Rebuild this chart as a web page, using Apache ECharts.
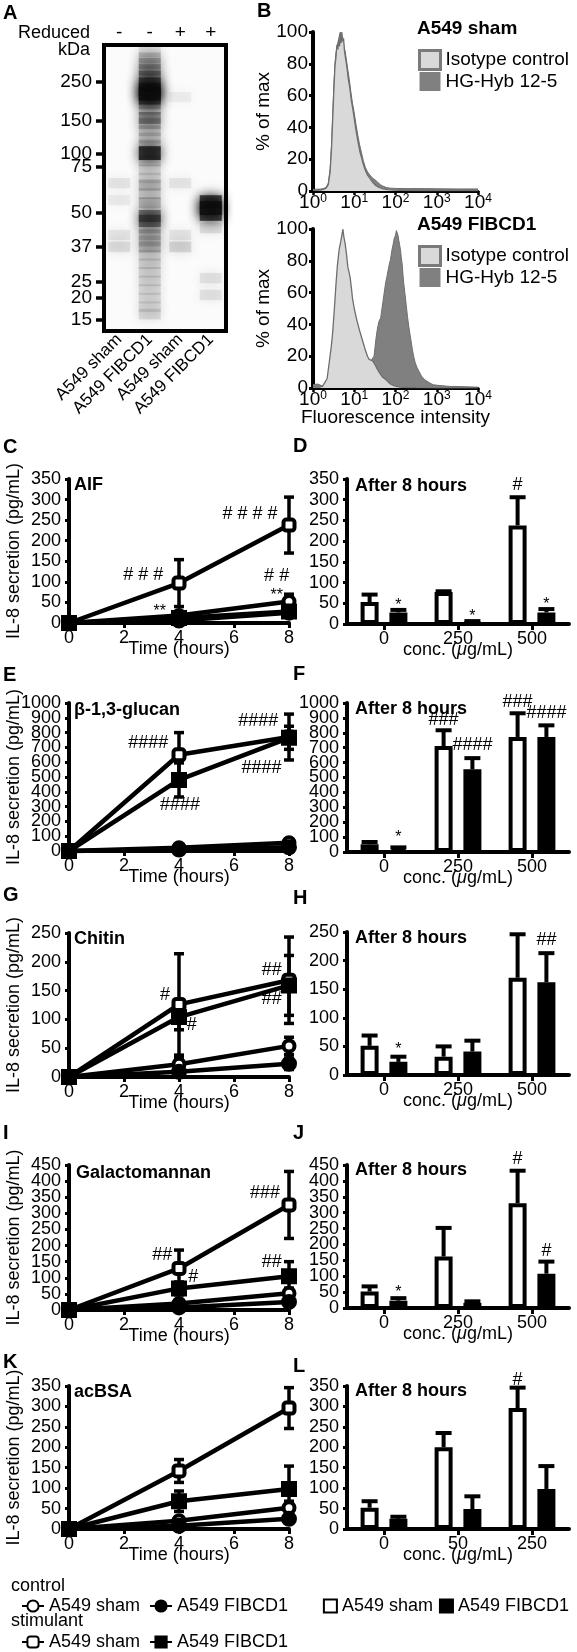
<!DOCTYPE html>
<html><head><meta charset="utf-8">
<script src="https://cdn.jsdelivr.net/npm/echarts@6/dist/echarts.min.js"></script>
<style>html,body{margin:0;padding:0;background:#fff}#c{width:577px;height:1652px}</style>
</head><body><div id="c"></div>
<script>
const FF = '"Liberation Sans", Arial, Helvetica, sans-serif';

// ---------- Panel A: western blot ----------
const laneNames = ['A549 sham', 'A549 FIBCD1', 'A549 sham', 'A549 FIBCD1'];
const reducedFlags = ['-', '-', '+', '+'];
const ladderKDa = [250, 150, 100, 75, 50, 37, 25, 20, 15];
const ladderMigration = [12.8, 26.5, 37.9, 42.6, 58.8, 70.5, 82.8, 88.4, 96.2]; // % of gel length
// [lane index, migration %, relative intensity]
const blotBands = [
  [1, 2.5, 0.12], [1, 4.5, 0.2], [1, 6.5, 0.28], [1, 8.7, 0.35], [1, 11.0, 0.45], [1, 13.5, 0.65], [1, 15.5, 0.95], [1, 17.0, 1.0], [1, 18.5, 0.8],
  [1, 20.5, 0.3], [1, 22.5, 0.2], [1, 25.5, 0.45], [1, 27.5, 0.25], [1, 30.0, 0.2], [1, 32.5, 0.18], [1, 35.0, 0.2], [1, 37.8, 0.95], [1, 40.5, 0.2],
  [1, 43.7, 0.14], [1, 46.5, 0.14], [1, 49.0, 0.25], [1, 52.0, 0.18], [1, 55.2, 0.28], [1, 59.8, 0.6], [1, 61.5, 0.55], [1, 64.0, 0.2],
  [1, 66.4, 0.25], [1, 68.5, 0.18], [1, 70.6, 0.28], [1, 73.5, 0.15], [1, 76.5, 0.16], [1, 79.5, 0.14], [1, 82.5, 0.14], [1, 85.5, 0.12],
  [1, 88.5, 0.13], [1, 91.5, 0.13], [1, 94.1, 0.15],
  [0, 48.3, 0.09], [0, 54.2, 0.07], [0, 66.4, 0.09], [0, 70.6, 0.13],
  [2, 18.2, 0.06], [2, 48.3, 0.09], [2, 66.4, 0.09], [2, 70.6, 0.16],
  [3, 54.9, 0.9], [3, 57.0, 1.0], [3, 59.1, 0.9], [3, 64.0, 0.12], [3, 81.5, 0.1], [3, 87.4, 0.1]
];

// ---------- Panel B: flow cytometry histograms [intensity, % of max] ----------
const histShamIsotype = [[1,0.4],[1.5,0.6],[1.8,1],[2.1,2],[2.35,4],[2.6,12],[2.8,26],[3.0,45],[3.2,63],[3.4,78],[3.6,84],[3.8,92],[4.0,89],[4.2,95],[4.4,91],[4.6,99],[4.8,93],[5.0,100],[5.25,94],[5.5,96],[5.8,88],[6.2,83],[6.7,77],[7.2,70],[7.8,65],[8.5,57],[9.3,51],[10.2,44],[11.2,37],[12.3,31],[13.6,25],[15,21],[16.5,17],[18.5,13],[21,10],[24,8],[28,5.5],[33,3.5],[40,2.2],[50,1.4],[65,0.9],[90,0.6],[130,0.4],[300,0.3],[1000,0.3],[10000,0.3]];
const histShamHyb = [[1,1],[1.5,1.2],[1.8,1.5],[2.1,2.5],[2.35,5],[2.6,14],[2.8,28],[3.0,48],[3.2,66],[3.4,80],[3.6,87],[3.8,90],[4.0,93],[4.3,97],[4.6,100],[4.9,95],[5.2,97],[5.6,91],[6.0,88],[6.5,82],[7.0,76],[7.6,70],[8.3,62],[9.1,55],[10,49],[11,42],[12.2,35],[13.5,29],[15,24],[16.6,19],[18.5,15],[21,12],[24,10],[28,8],[32,7],[37,5.5],[43,4],[50,3],[60,2.2],[75,1.8],[100,1.6],[200,1.5],[500,1.5],[1000,1.4],[3000,1.3],[10000,1.3]];
const histFibIsotype = [[1,0.5],[1.4,0.5],[1.7,1],[1.9,2],[2.2,6],[2.5,17],[2.8,27],[3.0,35],[3.3,50],[3.6,65],[3.9,77],[4.3,87],[4.7,92],[5.0,96],[5.3,100],[5.6,95],[6.0,91],[6.5,84],[7.0,76],[7.9,70],[8.6,62],[9.1,56],[10,50],[10.8,46],[12,41],[13.5,36],[15.8,30],[18,25],[20.9,20],[23,18],[25,17],[28,17],[30,16],[33,14],[36,12],[40,10],[44,9],[48,7],[53,6],[60,5],[63,4],[75,2.5],[91,1.5],[110,0.8],[132,0.5],[200,0.3],[316,0.2],[1000,0.1],[10000,0.1]];
const histFibHyb = [[1,2],[1.1,2.5],[1.3,2.5],[1.6,1.5],[2,1],[4,1],[8,1.5],[12,3],[15.8,5],[18,8],[20.9,12],[23,15],[25.1,17],[28,18],[30.2,20],[32,26],[34,32],[36.3,37],[39.8,42],[43.7,44],[47,50],[50.1,55],[54,61],[57.5,66],[62,70],[66.1,74],[71,78],[75.9,81],[81,86],[87.1,90],[93,94],[100,96],[105,99],[110,100],[115,96],[120,93],[126,90],[132,87],[138,82],[145,78],[151,72],[158,66],[170,59],[182,52],[195,45],[209,39],[224,34],[240,29],[257,24],[275,20],[300,16],[331,13],[363,11],[398,9],[437,7],[479,6],[525,5],[575,4],[690,3],[832,2],[1200,1.5],[2089,1],[5012,0.8],[10000,0.5]];

// ---------- y tick labels for IL-8 panels ----------
const ticks350 = [0, 50, 100, 150, 200, 250, 300, 350];
const ticks1000 = [0, 100, 200, 300, 400, 500, 600, 700, 800, 900, 1000];
const ticks250 = [0, 50, 100, 150, 200, 250];
const ticks450 = [0, 50, 100, 150, 200, 250, 300, 350, 400, 450];

// ---------- Time courses (order: control sham, control FIBCD1, stimulant sham, stimulant FIBCD1) ----------
const timeHours = [0, 4, 8];
const seriesKeys = ['control|A549 sham', 'control|A549 FIBCD1', 'stimulant|A549 sham', 'stimulant|A549 FIBCD1'];

const aifMean = [[0,18,52],[0,6,25],[0,97,238],[0,12,28]];
const aifErr  = [[0,8,18],[0,3,6],[0,57,68],[0,6,8]];
const aifMarks = [[2.7,117,'# # #'],[3.3,28,'**'],[6.58,265,'# # # #'],[7.55,114,'# #'],[7.55,66,'**']];

const glucanMean = [[0,22,55],[0,10,25],[0,650,770],[0,480,765]];
const glucanErr  = [[0,8,15],[0,4,6],[0,150,155],[0,115,78]];
const glucanMarks = [[2.88,732,'####'],[4.04,311,'####'],[6.88,878,'####'],[7.0,559,'####']];

const chitinMean = [[0,22,54],[0,9,23],[0,126,168],[0,104,159]];
const chitinErr  = [[0,12,15],[0,5,10],[0,88,75],[0,22,52]];
const chitinMarks = [[3.49,142,'#'],[4.46,90,'#'],[7.37,185,'##'],[7.37,135,'##']];

const galactoMean = [[0,20,52],[0,8,25],[0,129,326],[0,67,105]];
const galactoErr  = [[0,8,16],[0,4,6],[0,57,104],[0,20,45]];
const galactoMarks = [[3.39,171,'##'],[4.52,103,'#'],[7.13,362,'###'],[7.37,150,'##']];

const acbsaMean = [[0,20,52],[0,8,25],[0,142,296],[0,68,98]];
const acbsaErr  = [[0,8,16],[0,4,6],[0,28,50],[0,25,56]];
const acbsaMarks = [];

// ---------- After 8 hours bars ----------
const concStd = ['0', '250', '500'];
const concBSA = ['0', '50', '250'];

const aif8Sham = [53, 77, 238], aif8ShamErr = [18, 2, 68];
const aif8Fib = [28, 5, 28], aif8FibErr = [6, 2, 8];
const aif8Marks = [[0,1,44,'*'],[1,1,18,'*'],[2,0,336,'#'],[2,1,48,'*']];

const glucan8Sham = [52, 711, 772], glucan8ShamErr = [15, 106, 159];
const glucan8Fib = [25, 555, 772], glucan8FibErr = [6, 75, 78];
const glucan8Marks = [[0,1,98,'*'],[1,0,886,'###'],[1,1,718,'####'],[2,0,1009,'###'],[2,1,931,'####']];

const chitin8Sham = [51, 32, 170], chitin8ShamErr = [18, 18, 76];
const chitin8Fib = [23, 41, 162], chitin8FibErr = [9, 19, 51];
const chitin8Marks = [[0,1,45,'*'],[2,1,236,'##']];

const galacto8Sham = [52, 162, 330], galacto8ShamErr = [16, 90, 102];
const galacto8Fib = [23, 16, 108], galacto8FibErr = [8, 5, 38];
const galacto8Marks = [[0,1,50,'*'],[2,0,468,'#'],[2,1,178,'#']];

const acbsa8Sham = [52, 200, 296], acbsa8ShamErr = [16, 35, 50];
const acbsa8Fib = [25, 49, 98], acbsa8FibErr = [5, 31, 56];
const acbsa8Marks = [[2,0,364,'#']];

// ================= build option =================
const grids = [], xAxes = [], yAxes = [], series = [], graphics = [];
const axText = { color: '#000', fontFamily: FF, fontSize: 18 };

function addGrid(g) {
  grids.push(Object.assign({ containLabel: false, outerBoundsMode: 'none' }, g));
  return grids.length - 1;
}
function txt(x, y, text, size, bold, align) {
  graphics.push({ type: 'text', x: x, y: y, z: 100,
    style: { text: text, fill: '#000', font: (bold ? 'bold ' : '') + size + 'px ' + FF,
      align: align || 'left', verticalAlign: 'middle', textAlign: align || 'left', textVerticalAlign: 'middle' } });
}
function textEl(pt, text, size, align) {
  return { type: 'text', x: pt[0], y: pt[1],
    style: { text: text, fill: '#000', font: size + 'px ' + FF, align: align || 'center', verticalAlign: 'middle',
      textAlign: align || 'center', textVerticalAlign: 'middle' } };
}
function seg(x1, y1, x2, y2, w) {
  return { type: 'line', shape: { x1: x1, y1: y1, x2: x2, y2: y2 }, style: { stroke: '#000', lineWidth: w } };
}

// ---- Panel A
(function () {
  const gi = addGrid({ left: 104, top: 45, width: 122, height: 286, show: true, borderColor: '#000', borderWidth: 4, backgroundColor: '#fbfbfb' });
  const idx = laneNames.map((n, i) => String(i));
  const xb = xAxes.push({ gridIndex: gi, type: 'category', data: idx, position: 'bottom',
    axisLine: { show: false }, axisTick: { show: false },
    axisLabel: { interval: 0, rotate: 45, margin: 6, color: '#000', fontFamily: FF, fontSize: 17,
      formatter: (v, i) => laneNames[i] } }) - 1;
  xAxes.push({ gridIndex: gi, type: 'category', data: idx, position: 'top',
    axisLine: { show: false }, axisTick: { show: false },
    axisLabel: { interval: 0, margin: 3, color: '#000', fontFamily: FF, fontSize: 19,
      formatter: (v, i) => reducedFlags[i] } });
  const yi = yAxes.push({ gridIndex: gi, type: 'value', min: 0, max: 100, inverse: true,
    axisLine: { show: false }, splitLine: { show: false },
    axisTick: { show: true, customValues: ladderMigration, length: 8, lineStyle: { color: '#000', width: 3.5 } },
    axisLabel: { customValues: ladderMigration, margin: 12, color: '#000', fontFamily: FF, fontSize: 19, lineHeight: 12,
      formatter: (v) => { const i = ladderMigration.indexOf(v); return i >= 0 ? String(ladderKDa[i]) : ''; } } }) - 1;
  series.push({ type: 'scatter', xAxisIndex: xb, yAxisIndex: yi, data: blotBands, symbol: 'rect',
    symbolSize: (v) => [22, 10 + 4 * v[2]],
    itemStyle: { color: (p) => 'rgba(15,15,15,' + p.value[2] + ')', shadowBlur: 12, shadowColor: '#000' },
    silent: true, z: 1 });
  txt(90, 33, 'Reduced', 18, false, 'right');
  txt(90, 50, 'kDa', 18, false, 'right');
})();

// ---- Panel B
function histPanel(g, iso, hyb, withName) {
  const gi = addGrid(g);
  const xi = xAxes.push({ gridIndex: gi, type: 'log', logBase: 10, min: 1, max: 10000,
    axisLine: { show: true, lineStyle: { color: '#000', width: 3 } },
    axisTick: { show: true, length: 4, lineStyle: { color: '#000', width: 2.5 } },
    minorTick: { show: false }, splitLine: { show: false },
    axisLabel: { margin: 2, color: '#000', fontFamily: FF, fontSize: 19, showMinLabel: true, showMaxLabel: true,
      formatter: (v) => '10{s|' + Math.round(Math.log10(v)) + '}',
      rich: { s: { fontSize: 12, fontFamily: FF, color: '#000', verticalAlign: 'top', lineHeight: 20 } } },
    name: withName ? 'Fluorescence intensity' : '', nameLocation: 'middle', nameGap: 20, nameMoveOverlap: false,
    nameTextStyle: { color: '#000', fontFamily: FF, fontSize: 19 } }) - 1;
  const yi = yAxes.push({ gridIndex: gi, type: 'value', min: 0, max: 100, interval: 20,
    axisLine: { show: true, lineStyle: { color: '#000', width: 4 } },
    axisTick: { show: true, length: 4, lineStyle: { color: '#000', width: 3 } },
    splitLine: { show: false },
    axisLabel: { margin: 5, color: '#000', fontFamily: FF, fontSize: 19, lineHeight: 14, showMinLabel: true, showMaxLabel: true,
      formatter: (v) => String(v) },
    name: '% of max', nameLocation: 'middle', nameGap: 40, nameMoveOverlap: false,
    nameTextStyle: { color: '#000', fontFamily: FF, fontSize: 19 } }) - 1;
  series.push({ type: 'line', name: 'HG-Hyb 12-5', xAxisIndex: xi, yAxisIndex: yi, data: hyb,
    symbol: 'none', lineStyle: { color: '#6e6e6e', width: 1 }, areaStyle: { color: '#808080', opacity: 1 }, z: 2 });
  series.push({ type: 'line', name: 'Isotype control', xAxisIndex: xi, yAxisIndex: yi, data: iso,
    symbol: 'none', lineStyle: { color: '#6e6e6e', width: 1.3 }, areaStyle: { color: '#d9d9d9', opacity: 1 }, z: 3 });
}
histPanel({ left: 313, top: 32, width: 165, height: 159 }, histShamIsotype, histShamHyb, false);
histPanel({ left: 313, top: 229, width: 165, height: 159 }, histFibIsotype, histFibHyb, true);

const histLegendData = [
  { name: 'Isotype control', icon: 'rect', itemStyle: { color: '#d9d9d9', borderColor: '#7a7a7a', borderWidth: 3 } },
  { name: 'HG-Hyb 12-5', icon: 'rect', itemStyle: { color: '#808080', borderColor: '#808080', borderWidth: 0 } }
];
txt(417, 29, 'A549 sham', 19, true);
txt(417, 225, 'A549 FIBCD1', 19, true);

// ---- time-course panels
const markerStyles = [
  { symbol: 'circle', fill: '#fff', size: 11 },
  { symbol: 'circle', fill: '#000', size: 12 },
  { symbol: 'roundRect', fill: '#fff', size: 11 },
  { symbol: 'rect', fill: '#000', size: 12 }
];
// y axis + its tick labels (labels drawn through the axis scale with a custom series, so dense labels may overlap like the original)
function yAxisFor(gi, g, xi, ticks, name) {
  const yi = yAxes.push({ gridIndex: gi, type: 'value', min: 0, max: ticks[ticks.length - 1], interval: ticks[1] - ticks[0],
    axisLine: { show: true, lineStyle: { color: '#000', width: 4 } },
    axisTick: { show: true, length: 4, lineStyle: { color: '#000', width: 3 } },
    splitLine: { show: false },
    axisLabel: { show: false },
    name: name || '', nameLocation: 'middle', nameGap: 46, nameMoveOverlap: false,
    nameTextStyle: axText }) - 1;
  series.push({ type: 'custom', xAxisIndex: xi, yAxisIndex: yi, data: ticks.map(t => [0, t]), silent: true, clip: false, z: 10,
    encode: { y: 1 },
    renderItem: (p, api) => {
      const y = api.coord([0, api.value(1)])[1];
      return textEl([g.left - 8, y], String(ticks[p.dataIndex]), 18, 'right');
    } });
  return yi;
}
function linePanel(g, ticks, means, errs, marks) {
  const gi = addGrid(g);
  const xi = xAxes.push({ gridIndex: gi, type: 'value', min: 0, max: 8, interval: 2,
    axisLine: { show: true, onZero: false, lineStyle: { color: '#000', width: 4 } },
    axisTick: { show: true, length: 5, lineStyle: { color: '#000', width: 3 } },
    splitLine: { show: false },
    axisLabel: Object.assign({ margin: 6, showMinLabel: true, showMaxLabel: true }, axText),
    name: 'Time (hours)', nameLocation: 'middle', nameGap: 17, nameMoveOverlap: false, nameTextStyle: axText }) - 1;
  const yi = yAxisFor(gi, g, xi, ticks, 'IL-8 secretion (pg/mL)');
  means.forEach((m, k) => {
    const st = markerStyles[k];
    series.push({ type: 'line', name: seriesKeys[k], xAxisIndex: xi, yAxisIndex: yi,
      data: timeHours.map((t, i) => [t, m[i]]), symbol: st.symbol, symbolSize: st.size, showAllSymbol: true,
      lineStyle: { color: '#000', width: 4.5 }, itemStyle: { color: st.fill, borderColor: '#000', borderWidth: 4 },
      clip: false, z: 4 + k });
  });
  const errData = [];
  means.forEach((m, k) => timeHours.forEach((t, i) => { if (errs[k][i] > 0) errData.push([t, m[i], errs[k][i]]); }));
  series.push({ type: 'custom', xAxisIndex: xi, yAxisIndex: yi, data: errData, silent: true, z: 3, clip: false,
    renderItem: (p, api) => {
      const x = api.value(0), m = api.value(1), e = api.value(2);
      const top = api.coord([x, m + e]), bot = api.coord([x, Math.max(0, m - e)]);
      return { type: 'group', children: [
        seg(top[0], top[1], bot[0], bot[1], 3.5),
        seg(top[0] - 5, top[1], top[0] + 5, top[1], 3.5),
        seg(bot[0] - 5, bot[1], bot[0] + 5, bot[1], 3.5)] };
    } });
  if (marks.length) {
    series.push({ type: 'custom', xAxisIndex: xi, yAxisIndex: yi, data: marks.map(a => [a[0], a[1]]), silent: true, z: 10, clip: false,
      renderItem: (p, api) => { const t = marks[p.dataIndex][2]; return textEl(api.coord([api.value(0), api.value(1)]), t, t.indexOf('*') >= 0 ? 16 : 18); } });
  }
}

// ---- bar panels
const BAR_OFF = 14.4;
function barPanel(g, ticks, cats, sham, shamErr, fib, fibErr, marks) {
  const gi = addGrid(g);
  const xi = xAxes.push({ gridIndex: gi, type: 'category', data: cats,
    axisLine: { show: true, lineStyle: { color: '#000', width: 4 } },
    axisTick: { show: true, alignWithLabel: true, length: 6, lineStyle: { color: '#000', width: 3 } },
    axisLabel: Object.assign({ margin: 6, interval: 0 }, axText),
    name: '{n|conc. (}{i|μ}{n|g/mL)}', nameLocation: 'middle', nameGap: 17, nameMoveOverlap: false,
    nameTextStyle: { rich: { n: axText, i: Object.assign({ fontStyle: 'italic' }, axText) } } }) - 1;
  const yi = yAxisFor(gi, g, xi, ticks, '');
  series.push({ type: 'bar', name: 'bar|A549 sham', xAxisIndex: xi, yAxisIndex: yi, data: sham,
    barWidth: 18, barGap: '60%', itemStyle: { color: '#fff', borderColor: '#000', borderWidth: 4 }, z: 2 });
  series.push({ type: 'bar', name: 'bar|A549 FIBCD1', xAxisIndex: xi, yAxisIndex: yi, data: fib,
    barWidth: 18, barGap: '60%', itemStyle: { color: '#000', borderColor: '#000', borderWidth: 4 }, z: 2 });
  const errData = cats.map((c, i) => [i, sham[i], shamErr[i], 0]).concat(cats.map((c, i) => [i, fib[i], fibErr[i], 1]));
  series.push({ type: 'custom', xAxisIndex: xi, yAxisIndex: yi, data: errData, silent: true, z: 3, clip: false,
    renderItem: (p, api) => {
      const c = api.value(0), m = api.value(1), e = api.value(2), side = api.value(3);
      const b = api.coord([c, m]), t = api.coord([c, m + e]);
      const x = b[0] + (side ? BAR_OFF : -BAR_OFF);
      return { type: 'group', children: [seg(x, b[1], x, t[1], 4), seg(x - 8, t[1], x + 8, t[1], 4)] };
    } });
  series.push({ type: 'custom', xAxisIndex: xi, yAxisIndex: yi, data: marks.map(a => [a[0], a[2], a[1]]), silent: true, z: 10, clip: false,
    renderItem: (p, api) => {
      const pt = api.coord([api.value(0), api.value(1)]);
      pt[0] += api.value(2) ? BAR_OFF : -BAR_OFF;
      const t = marks[p.dataIndex][3];
      return textEl(pt, t, t.indexOf('*') >= 0 ? 16 : 18);
    } });
}

linePanel({ left: 69, top: 479, width: 220, height: 144 }, ticks350, aifMean, aifErr, aifMarks);
barPanel({ left: 347, top: 479, width: 222, height: 145 }, ticks350, concStd, aif8Sham, aif8ShamErr, aif8Fib, aif8FibErr, aif8Marks);
linePanel({ left: 69, top: 703, width: 220, height: 148 }, ticks1000, glucanMean, glucanErr, glucanMarks);
barPanel({ left: 347, top: 703, width: 222, height: 149 }, ticks1000, concStd, glucan8Sham, glucan8ShamErr, glucan8Fib, glucan8FibErr, glucan8Marks);
linePanel({ left: 69, top: 933, width: 220, height: 144 }, ticks250, chitinMean, chitinErr, chitinMarks);
barPanel({ left: 347, top: 932, width: 222, height: 143 }, ticks250, concStd, chitin8Sham, chitin8ShamErr, chitin8Fib, chitin8FibErr, chitin8Marks);
linePanel({ left: 69, top: 1165, width: 220, height: 145 }, ticks450, galactoMean, galactoErr, galactoMarks);
barPanel({ left: 347, top: 1165, width: 222, height: 143 }, ticks450, concStd, galacto8Sham, galacto8ShamErr, galacto8Fib, galacto8FibErr, galacto8Marks);
linePanel({ left: 69, top: 1386, width: 220, height: 143 }, ticks350, acbsaMean, acbsaErr, acbsaMarks);
barPanel({ left: 347, top: 1386, width: 222, height: 143 }, ticks350, concBSA, acbsa8Sham, acbsa8ShamErr, acbsa8Fib, acbsa8FibErr, acbsa8Marks);

// panel letters & titles
[['A',3,13],['B',257,11],['C',3,447],['D',293,446],['E',3,675],['F',293,674],['G',3,895],['H',293,898],['I',3,1133],['J',293,1133],['K',3,1362],['L',293,1366]]
  .forEach(a => txt(a[1], a[2], a[0], 20, true));
[['AIF',74,485],['β-1,3-glucan',74,710],['Chitin',74,939],['Galactomannan',76,1173],['acBSA',74,1392]]
  .forEach(a => txt(a[1], a[2], a[0], 18, true));
[486, 709, 938, 1170, 1391].forEach(y => txt(355, y, 'After 8 hours', 18, true));
txt(11, 1586, 'control', 18, false);
txt(11, 1621, 'stimulant', 18, false);

const lgText = { color: '#000', fontFamily: FF, fontSize: 18 };
const option = {
  animation: false,
  textStyle: { fontFamily: FF },
  grid: grids, xAxis: xAxes, yAxis: yAxes, series: series, graphic: graphics,
  legend: [
    { left: 413, top: 44, orient: 'vertical', data: histLegendData, itemWidth: 21, itemHeight: 19, itemGap: 1,
      selectedMode: false, textStyle: { color: '#000', fontFamily: FF, fontSize: 19 } },
    { left: 413, top: 240, orient: 'vertical', data: histLegendData, itemWidth: 21, itemHeight: 19, itemGap: 1,
      selectedMode: false, textStyle: { color: '#000', fontFamily: FF, fontSize: 19 } },
    { left: 16, top: 1592, data: [seriesKeys[0], seriesKeys[1]], itemWidth: 22, itemHeight: 14, itemGap: 9,
      selectedMode: false, formatter: n => n.split('|')[1], textStyle: lgText },
    { left: 16, top: 1628, data: [seriesKeys[2], seriesKeys[3]], itemWidth: 22, itemHeight: 14, itemGap: 9,
      selectedMode: false, formatter: n => n.split('|')[1], textStyle: lgText },
    { right: 3, top: 1592, data: ['bar|A549 sham', 'bar|A549 FIBCD1'], icon: 'rect', itemWidth: 13, itemHeight: 13, itemGap: 6,
      selectedMode: false, formatter: n => n.split('|')[1], textStyle: lgText }
  ]
};
const chart = echarts.init(document.getElementById('c'), null, { renderer: 'canvas' });
chart.setOption(option);
</script></body></html>
